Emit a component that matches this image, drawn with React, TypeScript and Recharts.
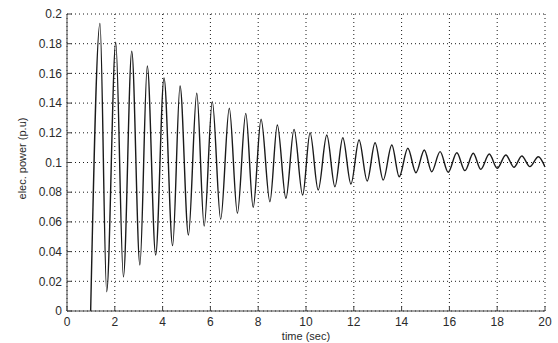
import React from 'react';
import { LineChart, Line, XAxis, YAxis, CartesianGrid, Label } from 'recharts';

// peaks and troughs of the swing (time in sec, power in p.u)
const startTime = [0.99];
const startPower = [0];

const peakTime = [1.38, 2.04, 2.71, 3.36, 4.06, 4.73, 5.43, 6.08, 6.79, 7.48, 8.12, 8.8, 9.5, 10.17, 10.87, 11.54, 12.22, 12.89, 13.59, 14.26, 14.95, 15.61, 16.31, 17.0, 17.67, 18.36, 19.03, 19.72];
const peakPower = [0.1937, 0.181, 0.175, 0.165, 0.157, 0.1515, 0.1466, 0.141, 0.1365, 0.1331, 0.1291, 0.1253, 0.1223, 0.1201, 0.1185, 0.1167, 0.1152, 0.1133, 0.1118, 0.1096, 0.1084, 0.1073, 0.1066, 0.1062, 0.1057, 0.1051, 0.1044, 0.1039];

const troughTime = [1.66, 2.36, 3.05, 3.71, 4.42, 5.08, 5.74, 6.43, 7.13, 7.79, 8.49, 9.16, 9.86, 10.51, 11.21, 11.88, 12.56, 13.23, 13.9, 14.6, 15.26, 15.95, 16.65, 17.31, 18.0, 18.7, 19.37];
const troughPower = [0.013, 0.023, 0.031, 0.0377, 0.044, 0.0512, 0.0572, 0.0617, 0.0658, 0.0698, 0.0736, 0.0759, 0.0781, 0.0815, 0.0837, 0.0855, 0.0875, 0.0882, 0.0904, 0.0931, 0.0938, 0.0934, 0.0945, 0.0954, 0.0961, 0.0968, 0.0972];

const endTime = [20];
const endPower = [0.097];

const xTicks = [0, 2, 4, 6, 8, 10, 12, 14, 16, 18, 20];
const yTicks = [0, 0.02, 0.04, 0.06, 0.08, 0.1, 0.12, 0.14, 0.16, 0.18, 0.2];

const toPoints = (ts: number[], ps: number[]) => ts.map((t, i) => ({ t, p: ps[i] }));

const data = [
  ...toPoints(startTime, startPower),
  ...toPoints(peakTime, peakPower),
  ...toPoints(troughTime, troughPower),
  ...toPoints(endTime, endPower),
].sort((a, b) => a.t - b.t);

const font = '"Liberation Sans", Arial, sans-serif';
const tickStyle = { fontSize: 12, fill: '#2a2a2a', fontFamily: font };
const axisColor = '#444';

export default function App() {
  return (
    <div style={{ position: 'absolute', left: 0, top: 0, width: 558, height: 343, background: '#fff' }}>
      <LineChart width={558} height={343} data={data} margin={{ top: 14, right: 13, left: 0, bottom: 0 }}>
        <CartesianGrid stroke="#000" strokeDasharray="1 3" strokeWidth={0.9} />
        <XAxis
          type="number"
          dataKey="t"
          domain={[0, 20]}
          ticks={xTicks}
          allowDataOverflow
          height={32}
          tickSize={-5}
          tickMargin={11}
          tick={tickStyle}
          stroke={axisColor}
          tickLine={{ stroke: axisColor }}
        >
          <Label value="time (sec)" position="insideBottom" offset={3} style={{ fontSize: 11, fill: '#2a2a2a', fontFamily: font }} />
        </XAxis>
        <XAxis
          xAxisId="top"
          orientation="top"
          type="number"
          domain={[0, 20]}
          ticks={xTicks}
          height={0}
          tickSize={-5}
          tick={false}
          stroke={axisColor}
        />
        <YAxis
          type="number"
          domain={[0, 0.2]}
          ticks={yTicks}
          allowDataOverflow
          width={67}
          tickSize={-5}
          tickMargin={10}
          tick={tickStyle}
          stroke={axisColor}
          tickLine={{ stroke: axisColor }}
        >
          <Label
            content={({ viewBox }: any) => {
              const cx = viewBox.x + 22;
              const cy = viewBox.y + viewBox.height / 2 - 4;
              return (
                <text
                  x={cx}
                  y={cy}
                  transform={`rotate(-90, ${cx}, ${cy})`}
                  textAnchor="middle"
                  dominantBaseline="central"
                  style={{ fontSize: 11, fill: '#2a2a2a', fontFamily: font }}
                >
                  elec. power (p.u)
                </text>
              );
            }}
          />
        </YAxis>
        <YAxis
          yAxisId="right"
          orientation="right"
          type="number"
          domain={[0, 0.2]}
          ticks={yTicks}
          width={0}
          tickSize={-5}
          tick={false}
          stroke={axisColor}
        />
        <Line
          type="monotone"
          dataKey="p"
          stroke="#1a1a1a"
          strokeWidth={1.4}
          dot={false}
          isAnimationActive={false}
        />
      </LineChart>
    </div>
  );
}
